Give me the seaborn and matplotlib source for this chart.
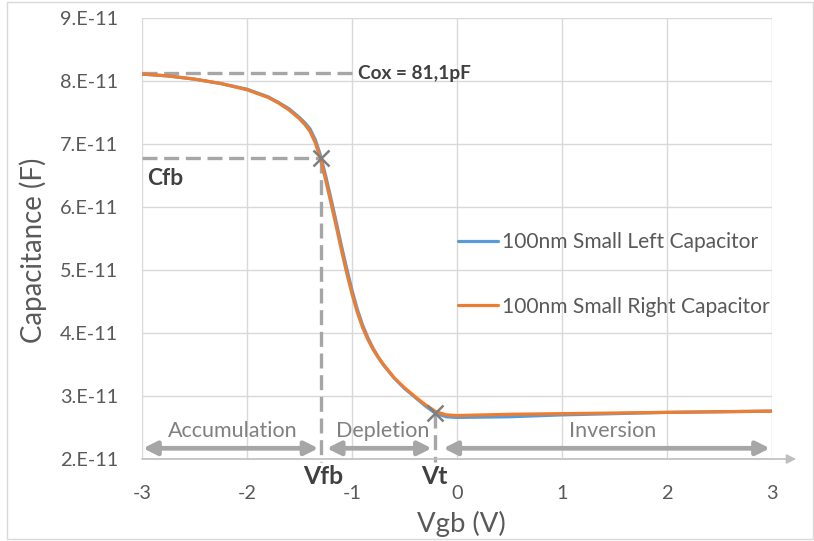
import numpy as np
import pandas as pd
import matplotlib
matplotlib.use("Agg")
import matplotlib.pyplot as plt
import seaborn as sns
from matplotlib.patches import Rectangle

# ---- data (capacitance in units of 1E-11 F) ----
vgb = [-3.0, -2.75, -2.5, -2.25, -2.0, -1.9, -1.8, -1.7, -1.6, -1.5, -1.45, -1.4, -1.35,
       -1.3, -1.25, -1.2, -1.15, -1.1, -1.05, -1.0, -0.95, -0.9, -0.85, -0.8, -0.75,
       -0.7, -0.6, -0.5, -0.4, -0.3, -0.2, -0.1, 0.0, 0.5, 1.0, 1.5, 2.0, 2.5, 3.0]
c_right = [8.11, 8.08, 8.03, 7.96, 7.86, 7.80, 7.74, 7.65, 7.54, 7.40, 7.31, 7.20, 7.02,
           6.76, 6.42, 6.06, 5.69, 5.31, 4.95, 4.62, 4.33, 4.09, 3.90, 3.74, 3.61,
           3.49, 3.29, 3.13, 2.99, 2.86, 2.75, 2.70, 2.69, 2.71, 2.72, 2.73, 2.74, 2.75, 2.76]
c_left = [8.11, 8.08, 8.03, 7.96, 7.87, 7.81, 7.75, 7.66, 7.56, 7.42, 7.34, 7.24, 7.07,
          6.82, 6.49, 6.13, 5.76, 5.38, 5.02, 4.68, 4.38, 4.13, 3.93, 3.76, 3.62,
          3.50, 3.29, 3.12, 2.98, 2.84, 2.72, 2.67, 2.66, 2.67, 2.70, 2.72, 2.74, 2.75, 2.76]
series_names = ["100nm Small Left Capacitor", "100nm Small Right Capacitor"]
yticks = [2, 3, 4, 5, 6, 7, 8, 9]
ytick_labels = ["2.E-11", "3.E-11", "4.E-11", "5.E-11", "6.E-11", "7.E-11", "8.E-11", "9.E-11"]
xticks = [-3, -2, -1, 0, 1, 2, 3]
cox = 8.12
vfb, cfb = -1.30, 6.78
vt, ct = -0.21, 2.73
regions = ["Accumulation", "Depletion", "Inversion"]

E = 1e-11
df = pd.DataFrame({
    "Vgb": vgb * 2,
    "C": [v * E for v in c_left] + [v * E for v in c_right],
    "series": [series_names[0]] * len(vgb) + [series_names[1]] * len(vgb),
})

sns.set_style("white")
plt.rcParams["font.family"] = ["Lato", "DejaVu Sans"]

fig = plt.figure(figsize=(8.14, 5.41), dpi=100)
ax = fig.add_axes([142 / 814, 1 - 459 / 541, 630 / 814, 441 / 541])
renderer = fig.canvas.get_renderer()


def fit_size(s, target_px, weight="normal", base=12.0):
    t = fig.text(0, 0, s, fontsize=base, fontweight=weight)
    w = t.get_window_extent(renderer=renderer).width
    t.remove()
    return base * target_px / w


sns.lineplot(data=df, x="Vgb", y="C", hue="series", hue_order=series_names,
             palette=["#5B9BD5", "#ED7D31"], linewidth=2.3, ax=ax, legend=True,
             sort=False)

ax.set_xlim(-3, 3)
ax.set_ylim(2 * E, 9 * E)
ax.set_xticks(xticks)
ax.set_xticklabels([str(t) for t in xticks])
ax.set_yticks([t * E for t in yticks])
ax.set_yticklabels(ytick_labels)
ax.grid(True, color="#d9d9d9", linewidth=1.0)
for s in ax.spines.values():
    s.set_visible(False)
tick_fs = fit_size("8.E-11", 58)
ax.tick_params(axis="both", length=0, colors="#595959", labelsize=tick_fs)
ax.tick_params(axis="x", pad=19)
ax.tick_params(axis="y", pad=17)
ax.set_xlabel("Vgb (V)", fontsize=fit_size("Vgb (V)", 88), color="#595959")
ax.set_ylabel("Capacitance (F)", fontsize=fit_size("Capacitance (F)", 185), color="#595959")
ax.xaxis.set_label_coords((461 - 142) / 630, (459 - 524) / 441)
ax.yaxis.set_label_coords((33 - 142) / 630, (459 - 250) / 441)
ax.xaxis.label.set_va("center")
ax.yaxis.label.set_va("center")

# x axis line with arrow
ax.annotate("", xy=(3.23, 2 * E), xytext=(-3, 2 * E), xycoords="data",
            arrowprops=dict(arrowstyle="-|>", color="#bfbfbf", lw=1.2, mutation_scale=14,
                            shrinkA=0, shrinkB=0),
            annotation_clip=False)

# legend
leg_fs = fit_size(series_names[0], 256)
fs_px = leg_fs * 100 / 72
leg = ax.legend(loc="center left", bbox_to_anchor=((458 - 142) / 630, (459 - 274.5) / 441),
                frameon=False, fontsize=leg_fs, handlelength=40 / fs_px,
                handletextpad=4 / fs_px, labelspacing=(71 - 1.25 * fs_px) / fs_px,
                borderaxespad=0, borderpad=0)
for t in leg.get_texts():
    t.set_color("#595959")
for h in leg.get_lines():
    h.set_linewidth(2.3)

dash = (0, (4.5, 2))
gcol = "#a6a6a6"
dlw = 2.4
# Cox line
ax.plot([-3, -0.99], [cox * E, cox * E], color=gcol, lw=dlw, ls=dash, zorder=1)
ax.text(-0.943, cox * E, "Cox = 81,1pF", fontsize=fit_size("Cox = 81,1pF", 112, "bold"),
        fontweight="bold", color="#404040", va="center", ha="left")
# Cfb / Vfb / Vt
ax.plot([-3, vfb], [cfb * E, cfb * E], color=gcol, lw=dlw, ls=dash, zorder=1)
ax.plot([vfb, vfb], [cfb * E, 1.95 * E], color=gcol, lw=dlw, ls=dash, zorder=1, clip_on=False)
ax.plot([vt, vt], [ct * E, 1.95 * E], color=gcol, lw=dlw, ls=dash, zorder=1, clip_on=False)
ax.plot([vfb, vt], [cfb * E, ct * E], ls="none", marker="x", markersize=11,
        mew=1.8, color="#7f7f7f", zorder=5)
bold_fs = fit_size("Vfb", 40, "bold")
ax.text(-2.953, 6.46 * E, "Cfb", fontsize=fit_size("Cfb", 36, "bold"), fontweight="bold",
        color="#404040", va="center", ha="left")
ax.text(-1.276, 1.73 * E, "Vfb", fontsize=bold_fs, fontweight="bold", color="#404040",
        va="center", ha="center")
ax.text(-0.214, 1.73 * E, "Vt", fontsize=bold_fs, fontweight="bold", color="#404040",
        va="center", ha="center")

# region arrows and labels
ya = 2.17 * E
spans = [(-2.99, -1.32), (-1.24, -0.24), (-0.13, 2.98)]
label_x = [-2.14, -0.71, 1.48]
region_fs = fit_size("Accumulation", 130)
for (a, b), name, lx in zip(spans, regions, label_x):
    ax.annotate("", xy=(b, ya), xytext=(a, ya),
                arrowprops=dict(arrowstyle="<|-|>", color=gcol, lw=3.4,
                                mutation_scale=20, shrinkA=0, shrinkB=0))
    ax.text(lx, 2.44 * E, name, fontsize=region_fs, color="#808080",
            ha="center", va="center")

# chart border
fig.add_artist(Rectangle((7 / 814, 2 / 541), 806 / 814, 537 / 541, transform=fig.transFigure,
                         fill=False, edgecolor="#d9d9d9", lw=1))

fig.savefig("out.png", dpi=100)
